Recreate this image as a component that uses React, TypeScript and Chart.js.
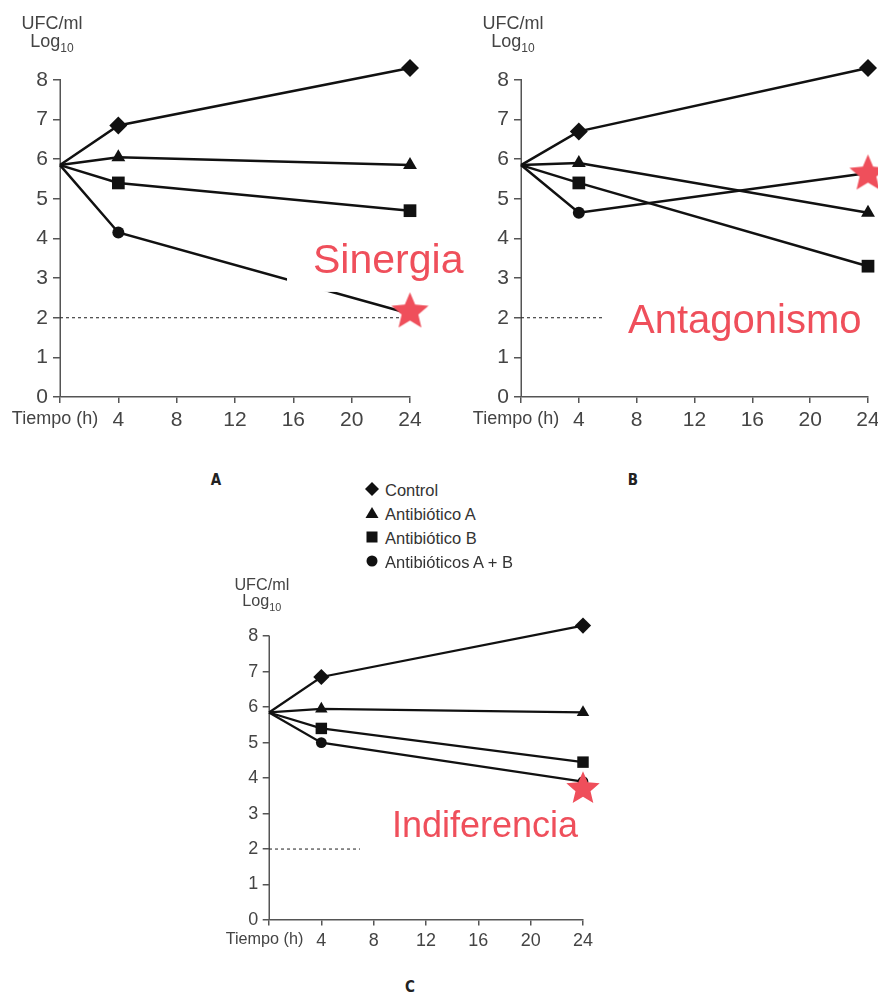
import React, { useEffect, useRef } from "react";
import { Chart, registerables } from "chart.js";

Chart.register(...registerables);

// ---------- data ----------
const TIME_H = [0, 4, 24];
const X_TICKS = [0, 4, 8, 12, 16, 20, 24];
const Y_TICKS = [0, 1, 2, 3, 4, 5, 6, 7, 8];
const Y_AXIS_TOP = 8;
const DETECTION_LIMIT = 2;
const SERIES_NAMES = ["Control", "Antibiótico A", "Antibiótico B", "Antibióticos A + B"];

const A_CONTROL = [5.85, 6.85, 8.3];
const A_ANTIB_A = [5.85, 6.05, 5.85];
const A_ANTIB_B = [5.85, 5.4, 4.7];
const A_ANTIB_AB = [5.85, 4.15, 2.1];
const A_STAR = [24, 2.2];

const B_CONTROL = [5.85, 6.7, 8.3];
const B_ANTIB_A = [5.85, 5.9, 4.65];
const B_ANTIB_B = [5.85, 5.4, 3.3];
const B_ANTIB_AB = [5.85, 4.65, 5.65];
const B_STAR = [24, 5.68];

const C_CONTROL = [5.85, 6.85, 8.3];
const C_ANTIB_A = [5.85, 5.95, 5.85];
const C_ANTIB_B = [5.85, 5.4, 4.45];
const C_ANTIB_AB = [5.85, 5.0, 3.9];
const C_STAR = [24, 3.75];

const RED = "#ef4f5b";
const INK = "#111";
const AXIS = "#555";
const FONT = '"Liberation Sans", Arial, sans-serif';

function makeStar(r: number, color: string) {
  const c = document.createElement("canvas");
  const size = Math.ceil(2 * r + 2);
  c.width = size;
  c.height = size;
  const ctx = c.getContext("2d")!;
  const cx = size / 2;
  const cy = size / 2 + r * 0.1;
  const inner = r * 0.45;
  ctx.beginPath();
  for (let i = 0; i < 10; i++) {
    const rad = i % 2 === 0 ? r : inner;
    const a = -Math.PI / 2 + (i * Math.PI) / 5;
    const px = cx + rad * Math.cos(a);
    const py = cy + rad * Math.sin(a);
    if (i === 0) ctx.moveTo(px, py);
    else ctx.lineTo(px, py);
  }
  ctx.closePath();
  ctx.fillStyle = color;
  ctx.fill();
  return c;
}

type PanelCfg = {
  series: number[][];
  star: number[];
  label: string;
  labelX: number;
  labelY: number;
  labelSize: number;
  boxPadLeft: number;
  boxPadRight: number;
  s: number; // scale factor
  width: number;
  height: number;
  left: number;
  top: number;
  padTop: number;
  padRight: number;
  yAxisW: number;
  xAxisH: number;
};

function Panel({ cfg }: { cfg: PanelCfg }) {
  const ref = useRef<HTMLCanvasElement>(null);
  useEffect(() => {
    const s = cfg.s;
    const styles = ["rectRot", "triangle", "rect", "circle"];
    const radii = [9 * s, 8 * s, 9 * s, 6 * s];
    const lw = 2.5 * s;
    const datasets: any[] = [];
    datasets.push({
      label: "star",
      data: [{ x: cfg.star[0], y: cfg.star[1] }],
      pointStyle: makeStar(19.5 * s, RED),
      pointRadius: 19.5 * s,
      showLine: false,
      clip: false,
    });
    cfg.series.forEach((vals, i) => {
      datasets.push({
        label: SERIES_NAMES[i],
        data: TIME_H.map((t, j) => ({ x: t, y: vals[j] })),
        showLine: true,
        borderColor: INK,
        borderWidth: lw,
        backgroundColor: INK,
        pointBackgroundColor: INK,
        pointBorderColor: INK,
        pointBorderWidth: 0,
        pointStyle: styles[i],
        pointRadius: TIME_H.map((t) => (t === 0 ? 0 : radii[i])),
        clip: false,
      });
    });
    datasets.push({
      label: "limit",
      data: [
        { x: 0, y: DETECTION_LIMIT },
        { x: 24, y: DETECTION_LIMIT },
      ],
      showLine: true,
      borderColor: "#333",
      borderWidth: 1.1,
      borderDash: [3, 3],
      pointRadius: 0,
      clip: false,
    });

    const annot = {
      id: "annot",
      beforeDatasetsDraw(chart: any) {
        const ctx = chart.ctx;
        const ys = chart.scales.y;
        const x = Math.round(chart.chartArea.left) + 0.25;
        ctx.save();
        ctx.strokeStyle = AXIS;
        ctx.lineWidth = 1.5;
        ctx.beginPath();
        ctx.moveTo(x, ys.getPixelForValue(0));
        ctx.lineTo(x, ys.getPixelForValue(Y_AXIS_TOP) - 0.75);
        ctx.stroke();
        ctx.restore();
      },
      beforeDatasetDraw(chart: any, args: any) {
        if (args.index !== 0) return;
        const ctx = chart.ctx;
        const xs = chart.scales.x;
        const ys = chart.scales.y;
        const px = xs.getPixelForValue(cfg.labelX);
        const py = ys.getPixelForValue(cfg.labelY);
        ctx.save();
        ctx.font = `${cfg.labelSize}px ${FONT}`;
        const w = ctx.measureText(cfg.label).width;
        ctx.fillStyle = "#fff";
        ctx.fillRect(
          px - cfg.boxPadLeft,
          py - cfg.labelSize,
          w + cfg.boxPadLeft + cfg.boxPadRight,
          cfg.labelSize + 19 * s
        );
        ctx.fillStyle = RED;
        ctx.textBaseline = "alphabetic";
        ctx.textAlign = "left";
        ctx.fillText(cfg.label, px, py);
        ctx.restore();
      },
      afterDraw(chart: any) {
        const ctx = chart.ctx;
        const ca = chart.chartArea;
        const top = chart.scales.y.getPixelForValue(Y_AXIS_TOP);
        const cx = ca.left - 8 * s;
        ctx.save();
        ctx.fillStyle = "#444";
        ctx.textBaseline = "alphabetic";
        ctx.textAlign = "center";
        ctx.font = `${18 * s}px ${FONT}`;
        ctx.fillText("UFC/ml", cx, top - 51 * s);
        const wLog = ctx.measureText("Log").width;
        ctx.font = `${12 * s}px ${FONT}`;
        const wSub = ctx.measureText("10").width;
        const x0 = cx - (wLog + wSub) / 2;
        ctx.textAlign = "left";
        ctx.font = `${18 * s}px ${FONT}`;
        ctx.fillText("Log", x0, top - 33 * s);
        ctx.font = `${12 * s}px ${FONT}`;
        ctx.fillText("10", x0 + wLog, top - 28 * s);
        ctx.restore();
      },
    };

    const tickSize = 21 * s * (s < 1 ? 0.95 : 1);
    const chart = new Chart(ref.current!, {
      type: "scatter",
      data: { datasets },
      options: {
        animation: false,
        responsive: false,
        maintainAspectRatio: false,
        layout: {
          autoPadding: false,
          padding: { top: cfg.padTop, right: cfg.padRight, left: 0, bottom: 0 },
        },
        plugins: { legend: { display: false }, tooltip: { enabled: false } },
        scales: {
          x: {
            type: "linear",
            min: 0,
            max: 24,
            afterBuildTicks: (sc: any) => {
              sc.ticks = X_TICKS.map((v) => ({ value: v }));
            },
            afterFit: (sc: any) => {
              sc.height = cfg.xAxisH;
              sc.paddingLeft = 0;
              sc.paddingRight = 0;
            },
            grid: { drawOnChartArea: false, drawTicks: true, tickLength: 6 * s, color: AXIS, lineWidth: 1.5 },
            border: { display: true, color: AXIS, width: 1.5 },
            ticks: {
              color: "#444",
              autoSkip: false,
              maxRotation: 0,
              padding: 5 * s,
              font: (c: any) =>
                c.tick && c.tick.value === 0
                  ? { family: FONT, size: 18 * s }
                  : { family: FONT, size: tickSize },
              callback: (v: any) => (v === 0 ? "Tiempo (h)  " : String(v)),
            },
          },
          y: {
            type: "linear",
            min: 0,
            max: 8.4,
            afterBuildTicks: (sc: any) => {
              sc.ticks = Y_TICKS.map((v) => ({ value: v }));
            },
            afterFit: (sc: any) => {
              sc.width = cfg.yAxisW;
              sc.paddingTop = 0;
              sc.paddingBottom = 0;
            },
            grid: { drawOnChartArea: false, drawTicks: true, tickLength: 7 * s, color: AXIS, lineWidth: 1.5 },
            border: { display: false },
            ticks: {
              color: "#444",
              padding: 5 * s,
              font: { family: FONT, size: tickSize },
            },
          },
        },
      } as any,
      plugins: [annot],
    });
    return () => chart.destroy();
  }, [cfg]);
  return (
    <canvas
      ref={ref}
      width={cfg.width}
      height={cfg.height}
      style={{ position: "absolute", left: cfg.left, top: cfg.top, width: cfg.width, height: cfg.height }}
    />
  );
}

const PANEL_A: PanelCfg = {
  series: [A_CONTROL, A_ANTIB_A, A_ANTIB_B, A_ANTIB_AB],
  star: A_STAR,
  label: "Sinergia",
  labelX: 17.35,
  labelY: 3.13,
  labelSize: 41,
  boxPadLeft: 26,
  boxPadRight: 6,
  s: 1,
  width: 470,
  height: 440,
  left: 0,
  top: 0,
  padTop: 64,
  padRight: 60,
  yAxisW: 60,
  xAxisH: 43,
};
const PANEL_B: PanelCfg = {
  series: [B_CONTROL, B_ANTIB_A, B_ANTIB_B, B_ANTIB_AB],
  star: B_STAR,
  label: "Antagonismo",
  labelX: 7.4,
  labelY: 1.62,
  labelSize: 40,
  boxPadLeft: 25,
  boxPadRight: 6,
  s: 1,
  width: 418,
  height: 440,
  left: 460,
  top: 0,
  padTop: 64,
  padRight: 10,
  yAxisW: 61,
  xAxisH: 43,
};
const PANEL_C: PanelCfg = {
  series: [C_CONTROL, C_ANTIB_A, C_ANTIB_B, C_ANTIB_AB],
  star: C_STAR,
  label: "Indiferencia",
  labelX: 9.4,
  labelY: 2.34,
  labelSize: 36,
  boxPadLeft: 32,
  boxPadRight: 6,
  s: 0.9,
  width: 400,
  height: 400,
  left: 215,
  top: 560,
  padTop: 62,
  padRight: 32,
  yAxisW: 54,
  xAxisH: 40,
};

function Marker({ kind }: { kind: number }) {
  const common = { fill: "#111" };
  return (
    <svg width={14} height={14} viewBox="0 0 14 14" style={{ position: "absolute", left: 0, top: 2 }}>
      {kind === 0 && <polygon points="7,0 14,7 7,14 0,7" {...common} />}
      {kind === 1 && <polygon points="7,1 13.5,12 0.5,12" {...common} />}
      {kind === 2 && <rect x={1.5} y={1.5} width={11} height={11} {...common} />}
      {kind === 3 && <circle cx={7} cy={7} r={5.5} {...common} />}
    </svg>
  );
}

export default function App() {
  const letter: React.CSSProperties = {
    position: "absolute",
    fontFamily: '"Liberation Sans Narrow", "DejaVu Sans Condensed", Arial, sans-serif',
    fontWeight: "bold",
    fontSize: 15,
    color: "#222",
    transform: "translate(-50%, -50%)",
  };
  return (
    <div
      style={{
        position: "absolute",
        left: 0,
        top: 0,
        width: 878,
        height: 994,
        background: "#fff",
        overflow: "hidden",
      }}
    >
      <Panel cfg={PANEL_A} />
      <Panel cfg={PANEL_B} />
      <Panel cfg={PANEL_C} />
      <div style={{ ...letter, left: 216, top: 480 }}>A</div>
      <div style={{ ...letter, left: 633, top: 480 }}>B</div>
      <div style={{ ...letter, left: 410, top: 987 }}>C</div>
      {SERIES_NAMES.map((name, i) => (
        <div
          key={name}
          style={{
            position: "absolute",
            left: 365,
            top: 480 + i * 24,
            paddingLeft: 20,
            height: 20,
            lineHeight: "20px",
            fontFamily: FONT,
            fontSize: 16.5,
            color: "#333",
            whiteSpace: "nowrap",
          }}
        >
          <Marker kind={i} />
          {name}
        </div>
      ))}
    </div>
  );
}
